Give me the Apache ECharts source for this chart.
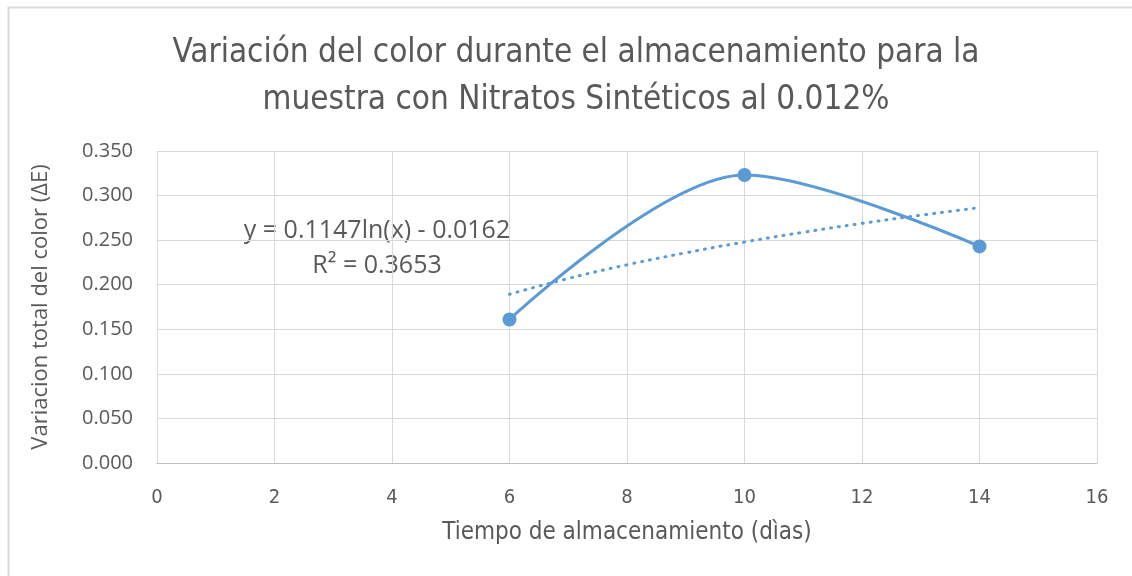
<!DOCTYPE html>
<html>
<head>
<meta charset="utf-8">
<script src="https://cdn.jsdelivr.net/npm/echarts@6/dist/echarts.min.js"></script>
<style>
html,body{margin:0;padding:0;background:#fff;}
#c{width:1132px;height:576px;}
</style>
</head>
<body>
<div id="c"></div>
<script>
const titleLines = ['Variación del color durante el almacenamiento para la', 'muestra con Nitratos Sintéticos al 0.012%'];
const xAxisName = 'Tiempo de almacenamiento (dìas)';
const yAxisName = 'Variacion total del color (ΔE)';
const days = [6, 10, 14];
const deltaE = [0.161, 0.323, 0.243];
const trendX = [6, 7, 8, 9, 10, 11, 12, 13, 14];
const trendY = [0.1893, 0.2070, 0.2223, 0.2358, 0.2479, 0.2588, 0.2688, 0.2780, 0.2865];
const equationText = 'y = 0.1147ln(x) - 0.0162';
const r2Text = 'R² = 0.3653';

const narrow = '"Liberation Sans Narrow", "DejaVu Sans Condensed", "Liberation Sans", sans-serif';
const regular = '"Open Sans", "Noto Sans", "Liberation Sans", sans-serif';
const txt = '#595959';
const blue = '#5B9BD5';

const chart = echarts.init(document.getElementById('c'));
chart.setOption({
  backgroundColor: '#fff',
  animation: false,
  title: {
    text: titleLines.join('\n'),
    left: 571, textAlign: 'center', top: 25,
    textStyle: { fontFamily: narrow, fontSize: 33, fontWeight: 'normal', color: txt, lineHeight: 47 }
  },
  grid: { left: 157, right: 35, top: 151, bottom: 113 },
  xAxis: {
    type: 'value', min: 0, max: 16, interval: 2,
    name: xAxisName, nameLocation: 'middle', nameGap: 58,
    nameTextStyle: { fontFamily: narrow, fontSize: 24, color: txt },
    axisLine: { show: true, onZero: false, lineStyle: { color: '#bfbfbf', width: 1 } },
    axisTick: { show: false },
    axisLabel: { fontFamily: narrow, fontSize: 20, color: txt, margin: 25 },
    splitLine: { show: true, lineStyle: { color: '#d9d9d9', width: 1 } }
  },
  yAxis: {
    type: 'value', min: 0, max: 0.35, interval: 0.05,
    name: yAxisName, nameLocation: 'middle', nameGap: 105, nameRotate: 90,
    nameTextStyle: { fontFamily: regular, fontSize: 22, color: txt },
    axisLine: { show: false },
    axisTick: { show: false },
    axisLabel: { fontFamily: regular, fontSize: 20, color: txt, margin: 24, formatter: v => v.toFixed(3) },
    splitLine: { show: true, lineStyle: { color: '#d9d9d9', width: 1 } }
  },
  series: [
    {
      type: 'line', data: days.map((d, i) => [d, deltaE[i]]),
      smooth: 0.32, symbol: 'circle', symbolSize: 14,
      lineStyle: { color: blue, width: 3 },
      itemStyle: { color: blue },
      z: 3
    },
    {
      type: 'line', data: trendX.map((d, i) => [d, trendY[i]]),
      smooth: true, symbol: 'none',
      lineStyle: { color: blue, width: 3, type: [1, 7], cap: 'round' },
      z: 2
    }
  ],
  graphic: [
    { type: 'rect', left: 6, top: 5, shape: { width: 1200, height: 700 }, style: { fill: 'none', stroke: '#d9d9d9', lineWidth: 2 }, silent: true },
    { type: 'text', x: 377, y: 231, style: { text: equationText, font: '25px ' + regular, fill: txt, align: 'center', verticalAlign: 'middle' } },
    { type: 'text', x: 377, y: 266, style: { text: r2Text, font: '25px ' + regular, fill: txt, align: 'center', verticalAlign: 'middle' } }
  ]
});
</script>
</body>
</html>
